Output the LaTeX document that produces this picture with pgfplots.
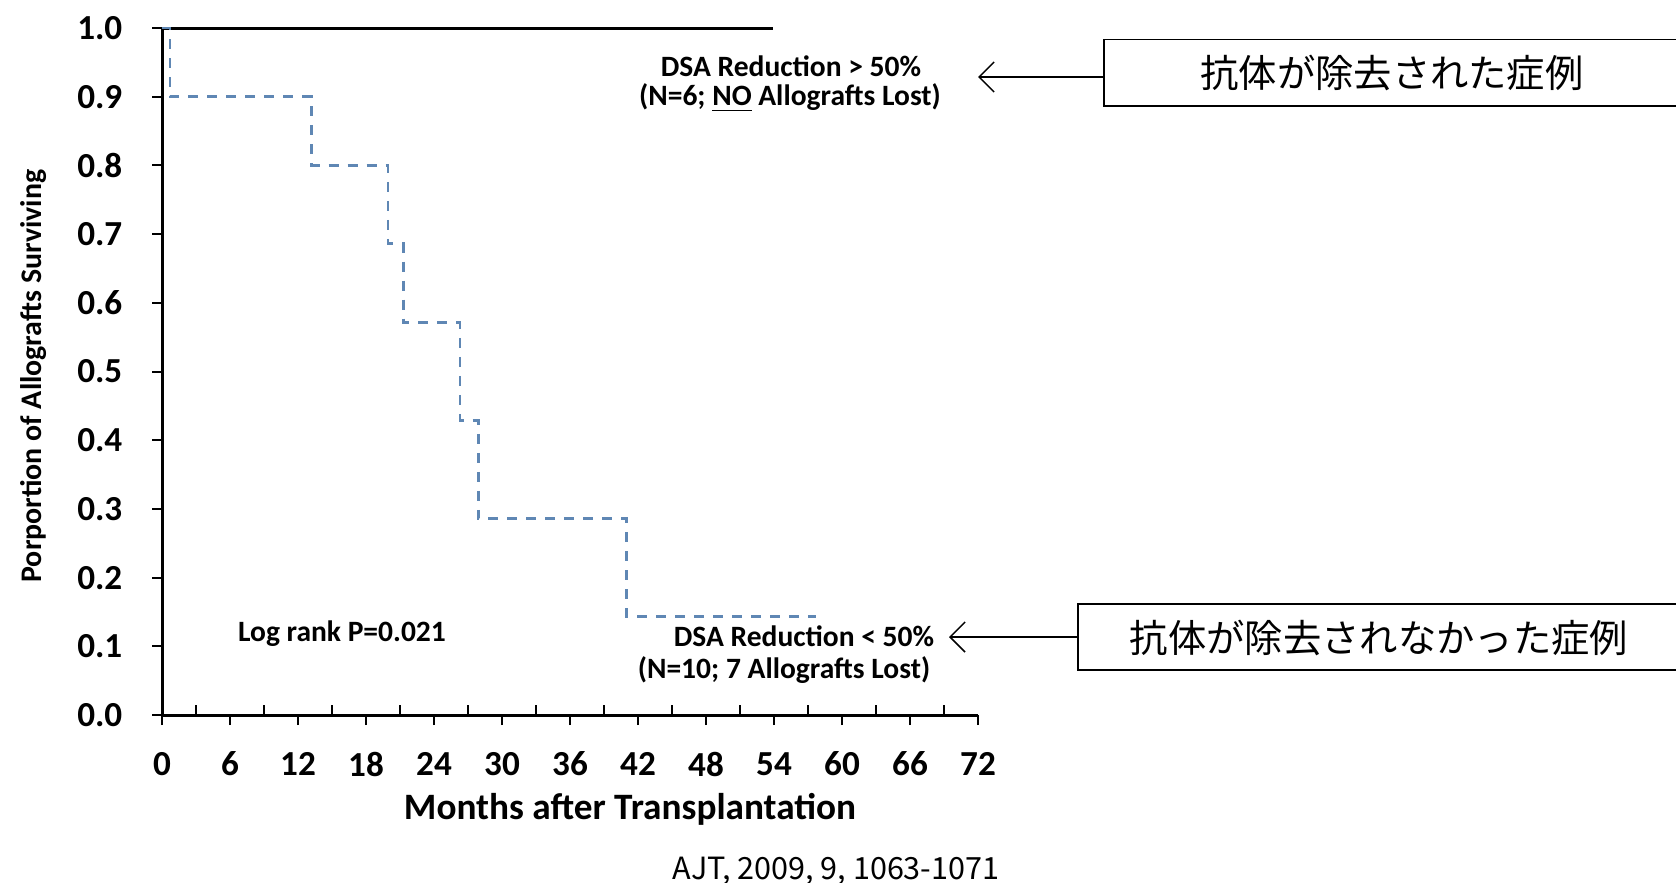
\documentclass[border=0pt]{standalone}
\usepackage{fontspec}
\setmainfont{Carlito}
\newfontfamily\cjk{Noto Sans CJK JP}
\usepackage{pgfplots}
\pgfplotsset{compat=1.18}
\usetikzlibrary{arrows.meta}

\definecolor{kmblue}{RGB}{95,135,180}

\begin{document}
\begin{tikzpicture}
\path[use as bounding box] (0,0) rectangle (167.6mm,88.2mm);
\begin{axis}[
  at={(16.2mm,16.7mm)}, anchor=south west,
  scale only axis, width=81.6mm, height=68.7mm,
  xmin=0, xmax=72, ymin=0, ymax=1,
  axis x line=bottom, axis y line=left,
  axis line style={line width=0.3mm, -},
  clip=false,
  /pgf/number format/assume math mode=true,
  xtick={0,6,...,72},
  minor x tick num=1,
  ytick={0,0.1,0.2,0.3,0.4,0.5,0.6,0.7,0.8,0.9,1.0},
  yticklabel style={/pgf/number format/fixed, /pgf/number format/fixed zerofill, /pgf/number format/precision=1},
  tick align=outside,
  major tick length=1.0mm,
  minor tick length=1.0mm,
  tick style={black, line width=0.2mm},
  minor x tick style={yshift=1.0mm},
  ticklabel style={font=\bfseries\fontsize{10}{12}\selectfont},
  xticklabel style={anchor=center, yshift=-3.9mm},
  yticklabel style={anchor=east, inner sep=0pt, xshift=-2.9mm},
  xlabel={Months after Transplantation},
  xlabel style={font=\bfseries\fontsize{10.6}{12}\selectfont, at={(axis description cs:0.5735,-0.1368)}, anchor=center},
  ylabel={Porportion of Allografts Surviving},
  ylabel style={font=\bfseries\fontsize{8.5}{10}\selectfont, at={(axis description cs:-0.157,0.4934)}, anchor=center},
]
% DSA reduction > 50%: no grafts lost
\addplot[black, line width=0.3mm] coordinates {(0,1) (53.9,1)};
% DSA reduction < 50%: Kaplan-Meier steps
\addplot[kmblue, line width=0.26mm, dash pattern=on 1.0mm off 0.9mm, const plot]
  coordinates {(0,1) (0.7,0.9) (13.2,0.8) (19.95,0.686) (21.3,0.571)
               (26.3,0.429) (27.9,0.286) (41.0,0.143) (57.7,0.143)};
\end{axis}

% annotations
\begin{scope}[every node/.style={font=\bfseries\fontsize{8.4}{10}\selectfont, inner sep=0pt}]
\node at (79.1mm,81.6mm) {DSA Reduction > 50\%};
\node at (79.0mm,78.4mm) {(N=6; \underline{NO} Allografts Lost)};
\node at (34.2mm,24.8mm) {Log rank P=0.021};
\node at (80.4mm,24.6mm) {DSA Reduction < 50\%};
\node at (78.4mm,21.2mm) {(N=10; 7 Allografts Lost)};
\end{scope}

% call-out boxes
\draw[line width=0.15mm] (167.6mm,84.25mm) -- (110.4mm,84.25mm) -- (110.4mm,77.6mm) -- (167.6mm,77.6mm);
\draw[line width=0.15mm, -{Straight Barb[length=1.5mm,width=3mm]}] (110.4mm,80.5mm) -- (97.8mm,80.5mm);
\node[font=\cjk\fontsize{10.9}{12}\selectfont, inner sep=0pt] at (139.2mm,80.9mm) {抗体が除去された症例};

\draw[line width=0.15mm] (167.6mm,27.8mm) -- (107.8mm,27.8mm) -- (107.8mm,21.2mm) -- (167.6mm,21.2mm);
\draw[line width=0.15mm, -{Straight Barb[length=1.5mm,width=3mm]}] (107.8mm,24.5mm) -- (94.9mm,24.5mm);
\node[font=\cjk\fontsize{10.9}{12}\selectfont, inner sep=0pt] at (137.9mm,24.4mm) {抗体が除去されなかった症例};

% citation
\node[font=\cjk\fontsize{8.7}{10}\selectfont, inner sep=0pt] at (83.6mm,1.1mm) {AJT, 2009, 9, 1063-1071};
\end{tikzpicture}
\end{document}
